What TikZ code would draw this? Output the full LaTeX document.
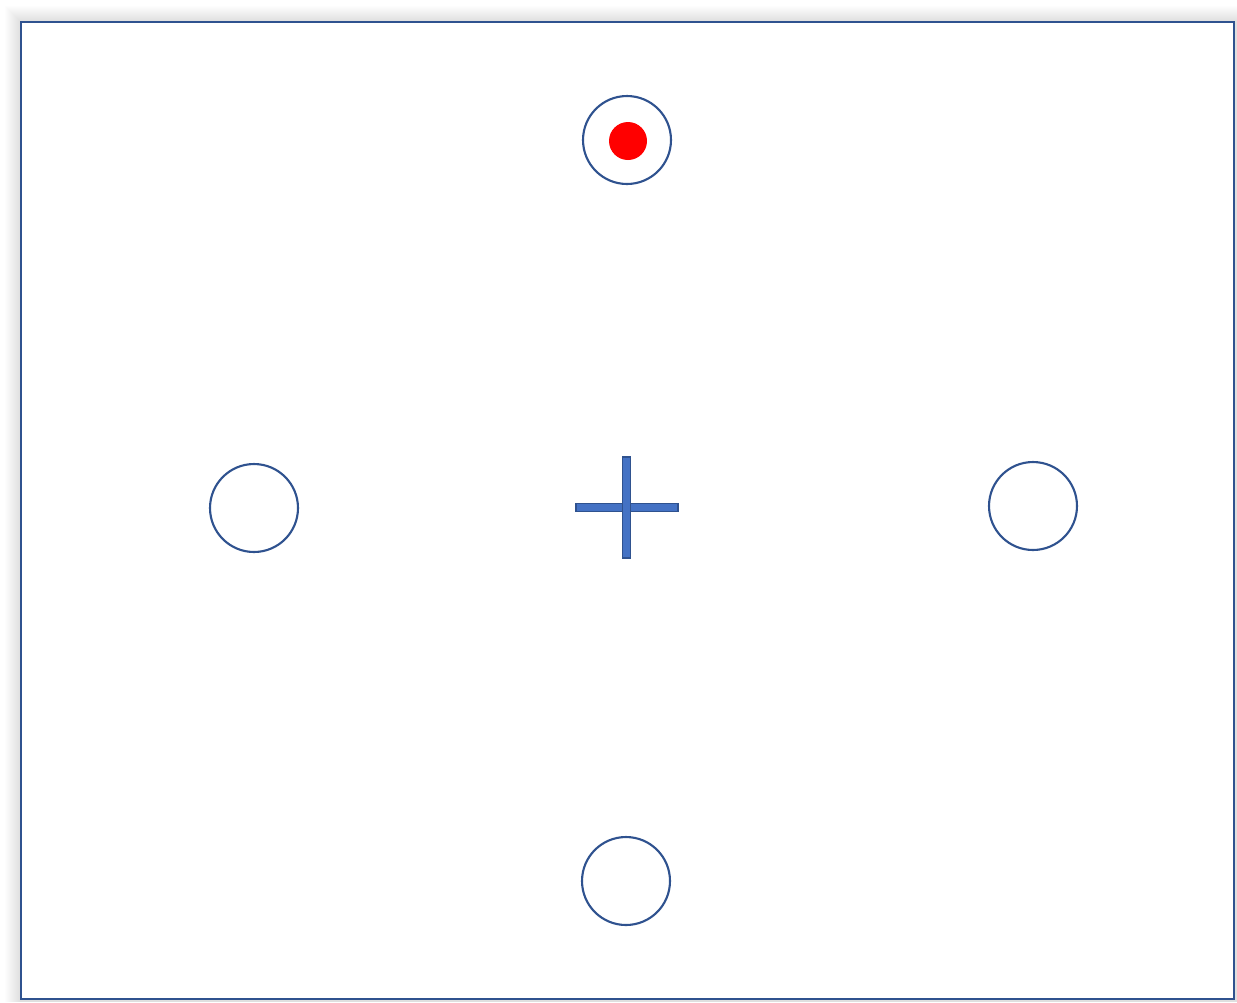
\documentclass[tikz,border=0pt]{standalone}
\usetikzlibrary{positioning}
\definecolor{rimblue}{HTML}{2F528F}
\definecolor{barblue}{HTML}{4472C4}
\definecolor{dotred}{HTML}{FF0000}
\tikzset{
  target/.style={circle, draw=rimblue, line width=1.2pt, fill=white, minimum size=1.76cm, inner sep=0pt},
  fixbar/.style={draw=rimblue, fill=barblue, line width=0.6pt},
}

\begin{document}
\begin{tikzpicture}[x=0.02cm, y=-0.02cm]
  \useasboundingbox (0,0) rectangle (1237,1002);
  % soft shadow along the left and top of the frame
  \foreach \d in {1,...,16}
    \fill[black, opacity=0.007] (21-\d,22-\d) rectangle (1237,1002);
  \fill[white] (21,22) rectangle (1234,999);
  \draw[rimblue, line width=1.2pt] (21,22) rectangle (1234,999);
  % fixation cross
  \filldraw[fixbar] (576,503.5) rectangle (678,511.5);
  \filldraw[fixbar] (622.5,457) rectangle (630.5,558);
  \node[coordinate] (fix) at (627,507) {};
  % placeholders
  \node[target] (up) at (627,140) {};
  \node[target] (left) at (254,508) {};
  \node[target] (right) at (1033,506) {};
  \node[target] (down) at (626,881) {};
  \fill[dotred] (up) ++(1,1) circle (19);
\end{tikzpicture}
\end{document}
